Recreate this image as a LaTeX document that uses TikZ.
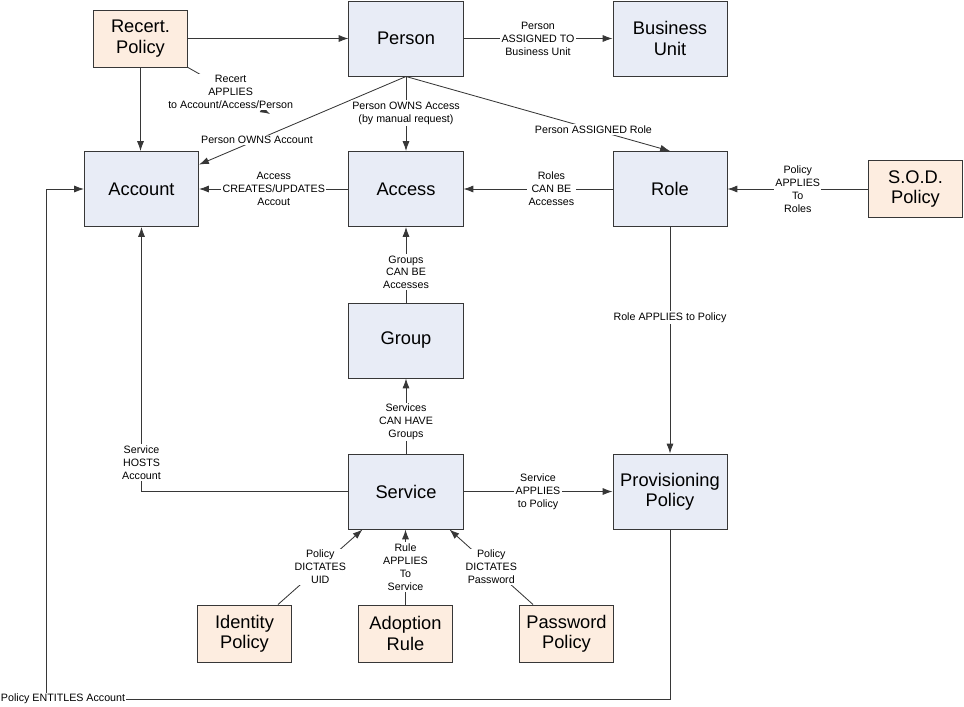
\documentclass[tikz,border=0pt]{standalone}
\usepackage{fontspec}
\setmainfont{Liberation Sans}
\usetikzlibrary{calc,arrows.meta}
\definecolor{entc}{RGB}{232,236,246}
\definecolor{polc}{RGB}{253,237,224}
\definecolor{lnc}{RGB}{55,55,55}
\newcommand\boxfont{\fontsize{13}{14.5}\selectfont}
\newcommand\lblfont{\fontsize{7.6}{9.2}\selectfont}

\begin{document}
\begin{tikzpicture}[
    x=0.025cm, y=-0.025cm,
    >={Latex[length=7pt,width=5pt]},
    box/.style={rectangle,draw=lnc,fill=#1,line width=0.7pt,
                font=\boxfont,align=center,inner sep=1pt},
    ent/.style={box=entc,minimum width=2.85cm,minimum height=1.875cm},
    pol/.style={box=polc,minimum width=2.35cm,minimum height=1.425cm},
    arr/.style={->,line width=0.6pt,lnc},
    lbl/.style={font=\lblfont,fill=white,align=center,inner sep=1pt,text=black}
  ]
  \useasboundingbox (0,0) rectangle (964,706);
  % top row
  \node[pol] (rec) at (140.5,38.5) {Recert.\\Policy};
  \node[ent] (per) at (406,38.5)   {Person};
  \node[ent] (bu)  at (670,38.5)   {Business\\Unit};
  % second row
  \node[ent] (acc) at (141.5,189)  {Account};
  \node[ent] (acs) at (406,189)    {Access};
  \node[ent] (rol) at (670,189)    {Role};
  \node[pol] (sod) at (915.5,189)  {S.O.D.\\Policy};
  % lower part
  \node[ent] (grp) at (406,340.5)  {Group};
  \node[ent] (svc) at (406,491.5)  {Service};
  \node[ent] (prv) at (670,491.5)  {Provisioning\\Policy};
  \node[pol] (idp) at (244.5,633.5) {Identity\\Policy};
  \node[pol] (adr) at (405.5,633.5) {Adoption\\Rule};
  \node[pol] (pwp) at (566.5,633.5) {Password\\Policy};
  \coordinate (rtip) at (270,114);
  \coordinate (pbl)  at (46,699);

  \draw[arr] (rec) -- (per);
  \draw[arr] (rec) -- (rec |- acc.north);
  \draw[arr] (rec.south east) -- node[lbl,pos=0.52] {Recert\\APPLIES\\to Account/Access/Person} (rtip);
  \draw[arr] (per) -- node[lbl] {Person\\ASSIGNED TO\\Business Unit} (bu);
  \draw[arr] (per.south) -- node[lbl,pos=0.72] {Person OWNS Account} (acc.23);
  \draw[arr] (per) -- node[lbl,pos=0.49] {Person OWNS Access\\(by manual request)} (acs);
  \draw[arr] (per.south) -- node[lbl,pos=0.71] {Person ASSIGNED Role} (rol.north);
  \draw[arr] (acs) -- node[lbl] {Access\\CREATES/UPDATES\\Accout} (acc);
  \draw[arr] (rol) -- node[lbl,pos=0.41] {Roles\\CAN BE\\Accesses} (acs);
  \draw[arr] (sod) -- node[lbl] {Policy\\APPLIES\\To\\Roles} (rol);
  \draw[arr] (grp) -- node[lbl,pos=0.4] {Groups\\CAN BE\\Accesses} (acs);
  \draw[arr] (rol) -- node[lbl,pos=0.4] {Role APPLIES to Policy} (prv);
  \draw[arr] (svc) -- node[lbl,pos=0.42] {Services\\CAN HAVE\\Groups} (grp);
  \draw[arr] (svc) -| node[lbl,pos=0.555] {Service\\HOSTS\\Account} (acc);
  \draw[arr] (svc) -- node[lbl] {Service\\APPLIES\\to Policy} (prv);
  \draw[arr] ($(idp.north east)+(-14,0)$) -- node[lbl] {Policy\\DICTATES\\UID} ($(svc.south west)+(14,0)$);
  \draw[arr] (adr) -- node[lbl] {Rule\\APPLIES\\To\\Service} (adr |- svc.south);
  \draw[arr] ($(pwp.north west)+(14,0)$) -- node[lbl] {Policy\\DICTATES\\Password} ($(svc.south east)+(-14,0)$);
  \draw[arr] (prv) |- (pbl) |- (acc);
  \node[lbl,anchor=west,inner sep=0.5pt] (entl) at (0,699) {Policy ENTITLES Account};
\end{tikzpicture}
\end{document}
